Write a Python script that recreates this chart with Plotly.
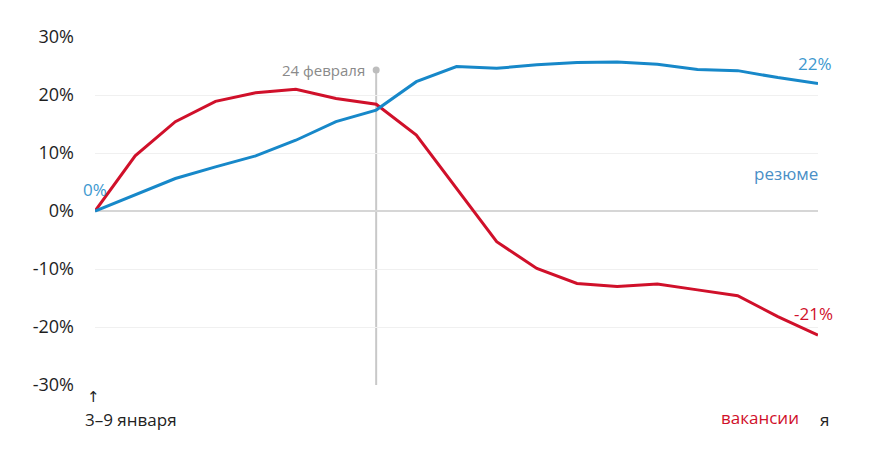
import plotly.graph_objects as go

weeks = list(range(19))  # week 0 = 3–9 января, week 7 = 21–27 февраля
resume = [0, 2.8, 5.6, 7.6, 9.5, 12.2, 15.4, 17.4, 22.3, 24.9, 24.6, 25.2, 25.6, 25.7, 25.3, 24.4, 24.2, 23.0, 22.0]
vacancies = [0, 9.5, 15.4, 18.9, 20.4, 21.0, 19.4, 18.4, 13.1, 3.8, -5.3, -9.9, -12.5, -13.0, -12.6, -13.6, -14.6, -18.2, -21.4]
y_ticks = [-30, -20, -10, 0, 10, 20, 30]
y_tick_labels = ["-30%", "-20%", "-10%", "0%", "10%", "20%", "30%"]
event_week = 7
event_label = "24 февраля"
first_label = "3–9 января"

BLUE = "#1788c9"
RED = "#d0102a"
FONT = "Open Sans"

fig = go.Figure()
fig.add_trace(go.Scatter(x=weeks, y=vacancies, mode="lines", name="вакансии",
                         line=dict(color=RED, width=3), hoverinfo="skip", cliponaxis=False))
fig.add_trace(go.Scatter(x=weeks, y=resume, mode="lines", name="резюме",
                         line=dict(color=BLUE, width=3), hoverinfo="skip", cliponaxis=False))

# event vertical line
fig.add_shape(type="line", xref="x", yref="y", x0=event_week, x1=event_week, y0=-30, y1=24.3,
              line=dict(color="#c8c8c8", width=2), layer="below")
fig.add_trace(go.Scatter(x=[event_week], y=[24.3], mode="markers",
                         marker=dict(color="#bdbdbd", size=7), hoverinfo="skip"))

ann = []
ann.append(dict(x=event_week, y=24.3, xref="x", yref="y", text=event_label, showarrow=False,
                xanchor="right", yanchor="middle", xshift=-9, font=dict(family=FONT, size=15, color="#8a8a8a")))
ann.append(dict(x=0, y=0, xref="x", yref="y", text="0%", showarrow=False,
                xanchor="center", yanchor="bottom", yshift=8, font=dict(family=FONT, size=17, color="#3d98cf")))
ann.append(dict(x=18, y=resume[-1], xref="x", yref="y", text="22%", showarrow=False,
                xanchor="center", yanchor="bottom", yshift=6, xshift=-3, font=dict(family=FONT, size=17, color="#3d98cf")))
ann.append(dict(x=18, y=vacancies[-1], xref="x", yref="y", text="-21%", showarrow=False,
                xanchor="center", yanchor="bottom", yshift=8, xshift=-5, font=dict(family=FONT, size=17, color=RED)))
ann.append(dict(x=17.2, y=6.4, xref="x", yref="y", text="резюме", showarrow=False,
                xanchor="center", yanchor="middle", font=dict(family=FONT, size=17, color="#4a8fc6")))
ann.append(dict(x=16.55, y=-0.093, xref="x", yref="paper", text="вакансии", showarrow=False,
                xanchor="center", yanchor="middle", font=dict(family=FONT, size=17, color=RED)))
ann.append(dict(x=0, y=-0.1, xref="x", yref="paper", text=first_label, showarrow=False,
                xanchor="left", yanchor="middle", xshift=-12, font=dict(family=FONT, size=17, color="#222222")))
ann.append(dict(x=0, y=-0.035, xref="x", yref="paper", text="↑", showarrow=False,
                xanchor="center", yanchor="middle", xshift=-2, font=dict(family="DejaVu Sans", size=15, color="#222222")))
ann.append(dict(x=18, y=-0.1, xref="x", yref="paper", text="я", showarrow=False,
                xanchor="left", yanchor="middle", xshift=0, font=dict(family=FONT, size=17, color="#222222")))

fig.update_layout(
    width=870, height=452,
    margin=dict(l=95, r=52, t=37, b=67),
    paper_bgcolor="white", plot_bgcolor="white",
    showlegend=False,
    annotations=ann,
    xaxis=dict(range=[0, 18], showgrid=False, zeroline=False, showticklabels=False,
               showline=False, fixedrange=True, automargin=False),
    yaxis=dict(range=[-30, 30], tickvals=y_ticks, ticktext=y_tick_labels,
               showgrid=True, gridcolor="#f0f0f0", gridwidth=1,
               zeroline=True, zerolinecolor="#d6d6d6", zerolinewidth=1.5,
               tickfont=dict(family=FONT, size=18, color="#1e1e1e"),
               ticklabelstandoff=20, showline=False, automargin=False, fixedrange=True),
)
fig.write_html("out.html", config={"displayModeBar": False},
               post_script="document.body.style.margin='0';")
